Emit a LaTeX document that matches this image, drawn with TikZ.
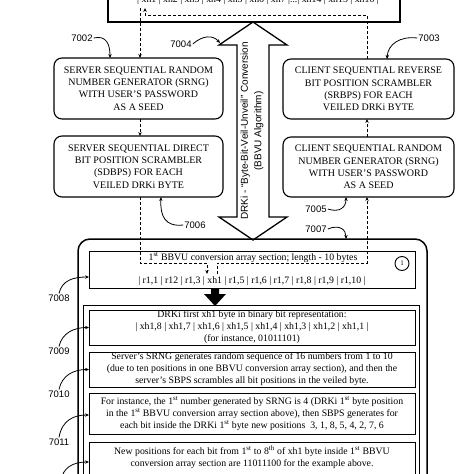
\documentclass[tikz,border=0pt]{standalone}
\usepackage{fontspec}
\setmainfont{Liberation Serif}
\newfontfamily\labfont{Liberation Sans}
\usetikzlibrary{arrows.meta}
\begin{document}
\begin{tikzpicture}[x=1pt,y=-1pt,
  capbox/.style={draw, line width=1.1pt, rounded corners=8pt, outer sep=0pt, inner sep=0pt,
    font=\fontsize{10}{12.3}\selectfont, align=center},
  textbox/.style={draw, line width=1pt, outer sep=0pt, inner sep=0pt, minimum width=326pt,
    font=\fontsize{9.8}{12}\selectfont, align=center},
  txt/.style={inner sep=0pt, font=\fontsize{9.8}{12}\selectfont, align=center},
  lab/.style={inner sep=1pt, font=\labfont\fontsize{9.5}{11}\selectfont},
  flow/.style={line width=0.8pt, dash pattern=on 3pt off 2pt},
  flowarr/.style={flow, -{Stealth[length=4pt,width=3.4pt]}},
  callout/.style={line width=0.8pt, -{Stealth[length=4pt,width=3.4pt]}},
]
\clip (0,0) rectangle (474,474);
\useasboundingbox (0,0) rectangle (474,474);

% big double arrow (drawn first so the top box line stays on top)
\draw[line width=1.3pt, fill=white] (253,22) -- (287,45) -- (269,45) -- (269,217) -- (287,217)
  -- (253,240) -- (219,217) -- (237,217) -- (237,45) -- (219,45) -- cycle;
\node[lab, rotate=90, align=center, font=\labfont\fontsize{10}{13.5}\selectfont] (bbvu) at (252,131)
  {DRKi - “Byte-Bit-Veil-Unveil” Conversion\\(BBVU Algorithm)};

% top box
\node[draw, line width=1.6pt, minimum width=292pt, minimum height=40pt, outer sep=0pt] (topbox) at (254,2) {};
\node[txt] (toptext) at (258,0.5) {| xh1 | xh2 | xh3 | xh4 | xh5 | xh6 | xh7 |...| xh14 | xh15 | xh16 |};

% four upper boxes
\node[capbox, minimum width=169pt, minimum height=61pt] (srng) at (138.5,88.5)
  {SERVER SEQUENTIAL RANDOM\\NUMBER GENERATOR (SRNG)\\WITH USER’S PASSWORD\\AS A SEED};
\node[capbox, minimum width=169pt, minimum height=61pt] (sdbps) at (138.5,166.5)
  {SERVER SEQUENTIAL DIRECT\\BIT POSITION SCRAMBLER\\(SDBPS) FOR EACH\\VEILED DRKi BYTE};
\node[capbox, minimum width=171pt, minimum height=60pt] (srbps) at (368.5,89)
  {CLIENT SEQUENTIAL REVERSE\\BIT POSITION SCRAMBLER\\(SRBPS) FOR EACH\\VEILED DRKi BYTE};
\node[capbox, minimum width=171pt, minimum height=60pt] (csrng) at (368.5,167)
  {CLIENT SEQUENTIAL RANDOM\\NUMBER GENERATOR (SRNG)\\WITH USER’S PASSWORD\\AS A SEED};

% outer frame and inner frame
\node[draw, line width=1.5pt, rounded corners=12pt, minimum width=349pt, minimum height=300pt, outer sep=0pt] (frame) at (252.5,389) {};
\node[draw, line width=0.9pt, minimum width=336pt, minimum height=220pt, outer sep=0pt] (inner) at (251,415) {};

% array box
\node[draw, line width=1pt, minimum width=326pt, minimum height=37pt, outer sep=0pt] (arr) at (252,269.5) {};
\node[txt] (arrtitle) at (253,257.5) {1\textsuperscript{st} BBVU conversion array section; length - 10 bytes};
\node[txt] (arrcells) at (252,281) {| r1,1 | r12 | r1,3 | xh1 | r1,5 | r1,6 | r1,7 | r1,8 | r1,9 | r1,10 |};
\node[draw, circle, line width=0.9pt, minimum size=14pt, inner sep=0pt, font=\fontsize{7}{7}\selectfont] (one) at (402,263.5) {1};

% black arrow
\fill (211,288) -- (219,288) -- (219,294) -- (226,294) -- (215,306) -- (204,294) -- (211,294) -- cycle;

% lower text boxes
\node[textbox, minimum height=35pt] (b1) at (252,327.5)
  {DRKi first xh1 byte in binary bit representation:\\| xh1,8 | xh1,7 | xh1,6 | xh1,5 | xh1,4 | xh1,3 | xh1,2 | xh1,1 |\\(for instance, 01011101)};
\node[textbox, minimum height=35pt] (b2) at (252,369.5)
  {Server’s SRNG generates random sequence of 16 numbers from 1 to 10\\(due to ten positions in one BBVU conversion array section), and then the\\server’s SBPS scrambles all bit positions in the veiled byte.};
\node[textbox, minimum height=41pt] (b3) at (252,413.5)
  {For instance, the 1\textsuperscript{st} number generated by SRNG is 4 (DRKi 1\textsuperscript{st} byte position\\in the 1\textsuperscript{st} BBVU conversion array section above), then SBPS generates for\\each bit inside the DRKi 1\textsuperscript{st} byte new positions\enspace 3, 1, 8, 5, 4, 2, 7, 6};
\node[textbox, minimum height=60pt, anchor=north] (b4) at (252,442) {};
\node[txt, anchor=north] (b4text) at (252,446)
  {New positions for each bit from 1\textsuperscript{st} to 8\textsuperscript{th} of xh1 byte inside 1\textsuperscript{st} BBVU\\conversion array section are 11011100 for the example above.};

% dashed flow connectors
\coordinate (s0) at (140,8);
\coordinate (tarr) at (145,8);
\coordinate (c0) at (367,0);
\coordinate (topline) at (0,15);
\coordinate (lvl) at (0,263);
\coordinate (xhin) at (207,274);
\coordinate (xhout) at (217,274);
\draw[flowarr] (s0) -- (s0 |- srng.north);
\draw[flowarr] (srng.south -| s0) -- (sdbps.north -| s0);
\draw[flowarr] (sdbps.south -| s0) -- (s0 |- lvl) -- (xhin |- lvl) -- (xhin);
\draw[flowarr] (xhout) -- (xhout |- lvl) -- (c0 |- lvl) -- (c0 |- csrng.south);
\draw[flowarr] (csrng.north -| c0) -- (srbps.south -| c0);
\draw[flowarr] (srbps.north -| c0) -- (c0 |- topline) -- (tarr |- topline) -- (tarr);

% reference labels
\node[lab] (l7002) at (82,38) {7002};
\node[lab] (l7004) at (181,44) {7004};
\node[lab] (l7003) at (429,38) {7003};
\node[lab] (l7006) at (195,225) {7006};
\node[lab] (l7005) at (316,209) {7005};
\node[lab] (l7007) at (316,229) {7007};
\node[lab] (l7008) at (59,298) {7008};
\node[lab] (l7009) at (59,351) {7009};
\node[lab] (l7010) at (59,394) {7010};
\node[lab] (l7011) at (59,442) {7011};
\coordinate (l7012) at (61,482);

\draw[callout] (l7002.east) .. controls (106,35) and (110,44) .. ([xshift=-28.5pt]srng.north);
\draw[callout] (l7004.east) .. controls (203,35) and (213,35) .. (220,43);
\draw[callout] (l7003.west) .. controls (400,36) and (388,44) .. ([xshift=18.5pt]srbps.north);
\draw[callout] (l7006.west) .. controls (165,227) and (160,216) .. ([xshift=22.5pt]sdbps.south);
\draw[callout] (l7005.east) .. controls (340,213) and (346,207) .. ([xshift=-22.5pt]csrng.south);
\draw[callout] (l7007.east) .. controls (340,224) and (346,230) .. ([xshift=93.5pt]frame.north);
\draw[callout] (l7008.north) .. controls (62,280) and (74,277) .. ([yshift=-7.5pt]arr.west);
\draw[callout] (l7009.north) .. controls (62,333) and (74,327.5) .. (b1.west);
\draw[callout] (l7010.north) .. controls (62,375) and (74,369.5) .. (b2.west);
\draw[callout] (l7011.north) .. controls (62,420) and (74,415) .. ([yshift=-1.5pt]b3.west);
\draw[callout] (l7012) .. controls (62,467) and (74,462) .. ([yshift=-20pt]b4.north west);
\end{tikzpicture}
\end{document}
